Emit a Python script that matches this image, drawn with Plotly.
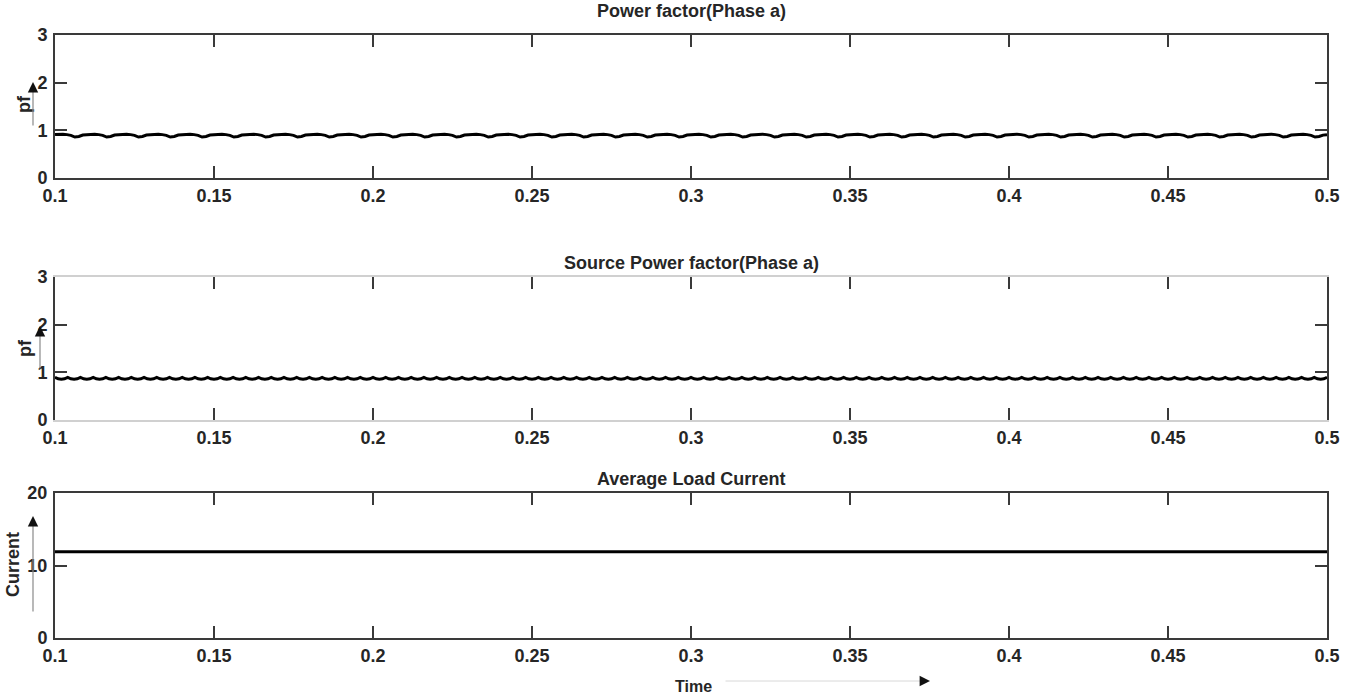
import numpy as np
import plotly.graph_objects as go
from plotly.subplots import make_subplots

# ---- data ----
t_start, t_end = 0.1, 0.5
pf_load_period = 0.01            # one ripple cycle of the load pf
pf_load_cycle = [0.91, 0.92, 0.92, 0.91, 0.895, 0.86, 0.87, 0.90]
pf_source_period = 0.004         # one ripple cycle of the source pf
pf_source_cycle = [0.895, 0.865, 0.855, 0.865]
avg_load_current = [11.9, 11.9]
avg_time = [0.1, 0.5]

x_ticks = [0.1, 0.15, 0.2, 0.25, 0.3, 0.35, 0.4, 0.45, 0.5]
x_ticklabels = ["0.1", "0.15", "0.2", "0.25", "0.3", "0.35", "0.4", "0.45", "0.5"]
pf_ticks = [0, 1, 2, 3]
cur_ticks = [0, 10, 20]
titles = ["Power factor(Phase a)", "Source Power factor(Phase a)", "Average Load Current"]

# sampled periodic waveforms (repeat the read cycle over the time span)
n1 = int(round((t_end - t_start) / pf_load_period)) * len(pf_load_cycle)
t1 = np.linspace(t_start, t_end, n1 + 1)
pf1 = np.resize(np.array(pf_load_cycle), n1 + 1)
n2 = int(round((t_end - t_start) / pf_source_period)) * len(pf_source_cycle)
t2 = np.linspace(t_start, t_end, n2 + 1)
pf2 = np.resize(np.array(pf_source_cycle), n2 + 1)

W, H = 1357, 697
FONT = "Liberation Sans, Arial, sans-serif"
TXT = "#262626"

def px(x):
    return x / W

def py(y):
    return 1 - y / H

fig = make_subplots(rows=3, cols=1)
fig.add_trace(go.Scatter(x=t1, y=pf1, mode="lines", line=dict(color="black", width=3)), row=1, col=1)
fig.add_trace(go.Scatter(x=t2, y=pf2, mode="lines", line=dict(color="black", width=3)), row=2, col=1)
fig.add_trace(go.Scatter(x=avg_time, y=avg_load_current, mode="lines", line=dict(color="black", width=3)), row=3, col=1)

xdom = [px(55), px(1327)]
ydoms = [[py(178), py(35)], [py(420), py(277)], [py(638), py(493)]]
xline_colors = ["#3a3a3a", "#d0d0d0", "#3a3a3a"]

for i in range(3):
    sfx = "" if i == 0 else str(i + 1)
    fig.layout["xaxis" + sfx].update(
        domain=xdom, range=[t_start, t_end], tickvals=x_ticks, ticktext=x_ticklabels,
        ticks="inside", ticklen=12, tickwidth=1.5, tickcolor="#3a3a3a",
        showline=True, linecolor=xline_colors[i], linewidth=2, mirror="ticks",
        showgrid=False, zeroline=False, automargin=False,
        tickfont=dict(family=FONT, size=18, color=TXT, weight="bold"),
    )
    fig.layout["yaxis" + sfx].update(
        domain=ydoms[i],
        range=[0, 3] if i < 2 else [0, 20],
        tickvals=pf_ticks if i < 2 else cur_ticks,
        ticks="inside", ticklen=12, tickwidth=1.5, tickcolor="#3a3a3a",
        showline=True, linecolor="#3a3a3a", linewidth=2, mirror="ticks",
        showgrid=False, zeroline=False, ticklabelstandoff=2, automargin=False,
        tickfont=dict(family=FONT, size=18, color=TXT, weight="bold"),
    )

title_y = [11, 263, 479]
for ttl, yy in zip(titles, title_y):
    fig.add_annotation(x=px(691), y=py(yy), xref="paper", yref="paper", text=ttl,
                       xanchor="center", yanchor="middle",
                       showarrow=False, font=dict(family=FONT, size=18, color=TXT, weight="bold"))

# y-axis labels with arrows (grey shaft, black head)
for lab, lx, ly in [("pf", 24, 104), ("pf", 25, 348), ("Current", 13, 565)]:
    fig.add_annotation(x=px(lx), y=py(ly), xref="paper", yref="paper", text=lab, textangle=-90,
                       xanchor="center", yanchor="middle",
                       showarrow=False, font=dict(family=FONT, size=18, color=TXT, weight="bold"))
for hx, hy, tl in [(33, 82, 45), (40, 326, 44), (33, 516, 97)]:
    fig.add_annotation(x=px(hx), y=py(hy + 4), xref="paper", yref="paper", text="", showarrow=True,
                       ax=0, ay=tl - 4, arrowhead=0, arrowwidth=1.2, arrowcolor="#8a8a8a")
    fig.add_annotation(x=px(hx), y=py(hy), xref="paper", yref="paper", text="", showarrow=True,
                       ax=0, ay=8, arrowhead=2, arrowsize=1.6, arrowwidth=1.3, arrowcolor="#111")

# Time label with arrow
fig.add_annotation(x=px(693), y=py(686), xref="paper", yref="paper", text="Time", showarrow=False,
                   xanchor="center", yanchor="middle",
                   font=dict(family=FONT, size=16, color=TXT, weight="bold"))
fig.add_annotation(x=px(924), y=py(681), xref="paper", yref="paper", text="", showarrow=True,
                   ax=-200, ay=0, arrowhead=0, arrowwidth=1, arrowcolor="#d8d8d8")
fig.add_annotation(x=px(930), y=py(681), xref="paper", yref="paper", text="", showarrow=True,
                   ax=-8, ay=0, arrowhead=2, arrowsize=1.6, arrowwidth=1.3, arrowcolor="#111")

fig.update_layout(width=W, height=H, margin=dict(l=0, r=0, t=0, b=0),
                  paper_bgcolor="white", plot_bgcolor="white", showlegend=False)

fig.write_html("out.html", post_script="document.body.style.margin='0';",
               config={"displayModeBar": False})
